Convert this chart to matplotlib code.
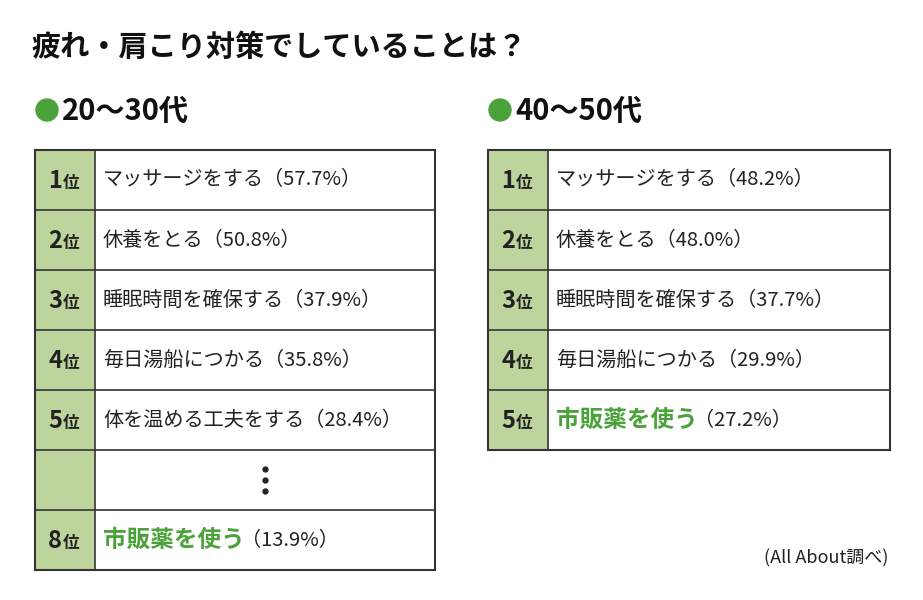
import matplotlib.pyplot as plt
from matplotlib.patches import Rectangle, Circle

plt.rcParams['font.family'] = 'Noto Sans CJK JP'

# data
title = '疲れ・肩こり対策でしていることは？'
left_header = '20〜30代'
left_ranks = ['1', '2', '3', '4', '5', '', '8']
left_items = ['マッサージをする', '休養をとる', '睡眠時間を確保する', '毎日湯船につかる', '体を温める工夫をする', '', '市販薬を使う']
left_pcts = ['57.7', '50.8', '37.9', '35.8', '28.4', '', '13.9']
right_header = '40〜50代'
right_ranks = ['1', '2', '3', '4', '5']
right_items = ['マッサージをする', '休養をとる', '睡眠時間を確保する', '毎日湯船につかる', '市販薬を使う']
right_pcts = ['48.2', '48.0', '37.7', '29.9', '27.2']
highlight = '市販薬を使う'
source = '(All About調べ)'

W, H = 923, 600
fig = plt.figure(figsize=(W / 100, H / 100), dpi=100)
ax = fig.add_axes([0, 0, 1, 1])
ax.set_xlim(0, W)
ax.set_ylim(H, 0)
ax.axis('off')

GREEN = '#4ba23a'
CELL = '#bdd59c'
ROW_H = 60

ax.text(31, 47, title, fontsize=21, fontweight='bold', va='center', color='#111111')
fig.canvas.draw()
renderer = fig.canvas.get_renderer()


def table(x0, x1, y0, header, ranks, items, pcts):
    ax.add_patch(Circle((x0 + 12, 110), 11, color=GREEN))
    ax.text(x0 + 27, 111, header, fontsize=21, fontweight='bold', va='center', color='#111111')
    n = len(ranks)
    ax.add_patch(Rectangle((x0, y0), 60, n * ROW_H, facecolor=CELL, edgecolor='none'))
    ax.add_patch(Rectangle((x0, y0), x1 - x0, n * ROW_H, facecolor='none', edgecolor='#333333', lw=1.5))
    ax.plot([x0 + 60, x0 + 60], [y0, y0 + n * ROW_H], color='#333333', lw=1.2)
    for i in range(1, n):
        y = y0 + i * ROW_H
        ax.plot([x0, x1], [y, y], color='#333333', lw=1.2)
    for i, (r, it, p) in enumerate(zip(ranks, items, pcts)):
        yc = y0 + i * ROW_H + ROW_H / 2
        if not it:
            xm = (x0 + 60 + x1) / 2
            ax.plot([xm] * 3, [yc - 11, yc, yc + 11], 'o', ms=3.5, color='#222222')
            continue
        ax.text(x0 + 27, yc + 1, r, fontsize=17, fontweight='bold', ha='right', va='center', color='#222222')
        ax.text(x0 + 28, yc + 3, '位', fontsize=12, fontweight='bold', ha='left', va='center', color='#222222')
        tx = x0 + 68
        if it == highlight:
            t = ax.text(tx, yc, it, fontsize=17, fontweight='bold', va='center', color=GREEN)
            bb = t.get_window_extent(renderer)
            tx = bb.x1 - 4
            ax.text(tx, yc + 1, '（' + p + '%）', fontsize=14.5, va='center', color='#222222')
        else:
            ax.text(tx, yc, it + '（' + p + '%）', fontsize=14.5, va='center', color='#222222')


table(35, 435, 150, left_header, left_ranks, left_items, left_pcts)
table(488, 890, 150, right_header, right_ranks, right_items, right_pcts)
ax.text(888, 558, source, fontsize=13, ha='right', va='center', color='#222222')

fig.savefig('out.png', dpi=100)
